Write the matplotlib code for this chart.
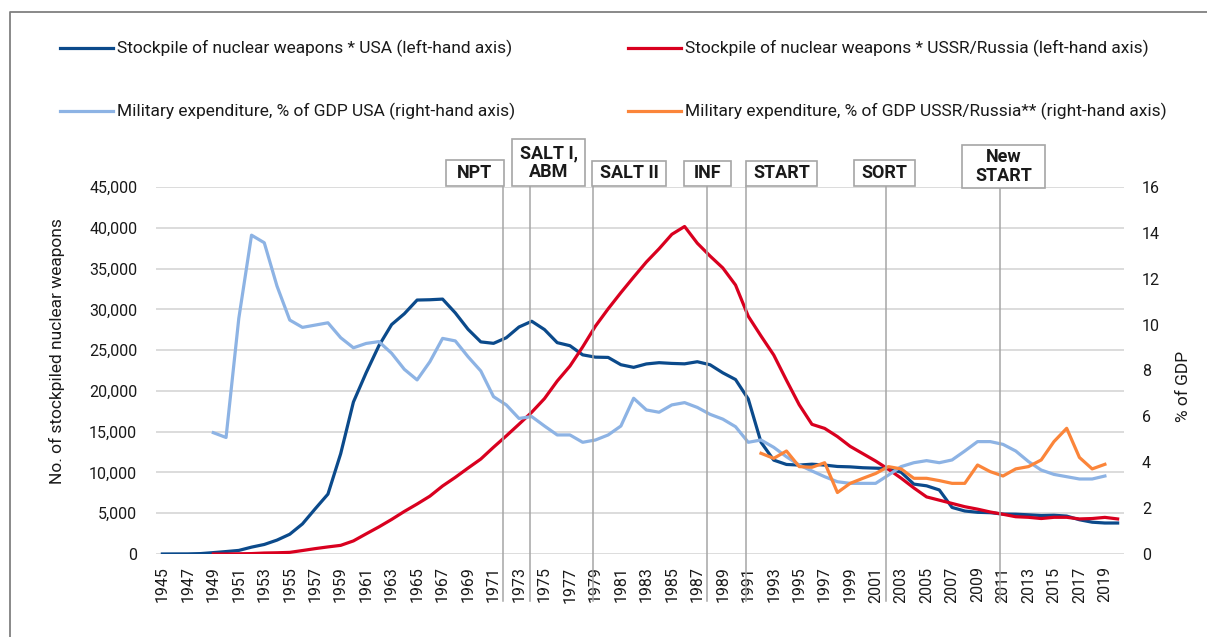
import matplotlib
matplotlib.use('Agg')
import matplotlib.pyplot as plt
from matplotlib.lines import Line2D
from matplotlib.patches import Rectangle
import matplotlib.transforms as mtransforms
import matplotlib.ticker as mticker
import numpy as np

plt.rcParams['font.family'] = ['Roboto', 'DejaVu Sans']

nan = np.nan
years = list(range(1945, 2021))

usa_stock = [2, 9, 13, 50, 170, 299, 438, 841, 1169, 1703, 2422, 3692, 5543, 7345, 12298,
             18638, 22229, 25540, 28133, 29463, 31139, 31175, 31255, 29561, 27552, 26008,
             25830, 26516, 27835, 28537, 27519, 25914, 25542, 24418, 24138, 24104, 23208,
             22886, 23305, 23459, 23368, 23317, 23575, 23205, 22217, 21392, 19008, 13708,
             11511, 10979, 10904, 11011, 10903, 10732, 10685, 10577, 10526, 10457, 10027,
             8570, 8360, 7853, 5709, 5273, 5113, 5066, 4897, 4881, 4804, 4717, 4750, 4650,
             4200, 3900, 3800, 3800]

russia_stock = [nan, nan, nan, nan, 1, 5, 25, 50, 120, 150, 200, 426, 660, 869, 1060, 1605,
                2471, 3322, 4238, 5221, 6129, 7089, 8339, 9399, 10538, 11643, 13092, 14478,
                15915, 17385, 19055, 21205, 23044, 25393, 27935, 30062, 32049, 33952, 35804,
                37431, 39197, 40159, 38107, 36538, 35078, 32980, 29154, 26734, 24400, 21300,
                18300, 15900, 15400, 14400, 13200, 12300, 11400, 10400, 9300, 8100, 7000,
                6600, 6200, 5800, 5500, 5150, 4870, 4570, 4500, 4350, 4500, 4500, 4300, 4350,
                4490, 4300]

usa_milex = [nan, nan, nan, nan, 5.29, 5.08, 10.27, 13.9, 13.57, 11.68, 10.2, 9.88, 9.98,
             10.08, 9.43, 8.99, 9.18, 9.26, 8.75, 8.05, 7.59, 8.38, 9.40, 9.29, 8.6, 7.98,
             6.86, 6.5, 5.91, 5.99, 5.58, 5.19, 5.19, 4.87, 4.97, 5.19, 5.58, 6.79, 6.28,
             6.18, 6.5, 6.6, 6.39, 6.09, 5.88, 5.55, 4.87, 4.97, 4.65, 4.24, 3.88, 3.62,
             3.37, 3.15, 3.08, 3.08, 3.08, 3.44, 3.81, 3.98, 4.07, 3.98, 4.1, 4.49, 4.9, 4.9,
             4.78, 4.49, 4.03, 3.66, 3.47, 3.37, 3.27, 3.27, 3.4, nan]

russia_milex = [nan] * 47 + [4.39, 4.17, 4.49, 3.81, 3.78, 3.98, 2.68, 3.08, 3.3, 3.51,
                             3.81, 3.71, 3.3, 3.3, 3.2, 3.08, 3.08, 3.88, 3.59, 3.4, 3.71,
                             3.81, 4.1, 4.9, 5.48, 4.21, 3.71, 3.91, nan]

labels = ['Stockpile of nuclear weapons * USA (left-hand axis)',
          'Stockpile of nuclear weapons * USSR/Russia (left-hand axis)',
          'Military expenditure, % of GDP USA (right-hand axis)',
          'Military expenditure, % of GDP USSR/Russia** (right-hand axis)']
colors = ['#0B4A8B', '#D9001F', '#8DB3E4', '#FB853A']

# treaty markers: name, position on year axis, box (x0, x1, ytop, ybottom) in pixels
treaties = ['NPT', 'SALT I,\nABM', 'SALT II', 'INF', 'START', 'SORT', 'New\nSTART']
treaty_pos = [1971.71, 1973.85, 1978.78, 1987.75, 1990.81, 2001.80, 2010.79]
treaty_box = [(446, 504, 160, 186), (512, 585, 139, 186), (592, 666, 161, 186),
              (684, 731, 161, 186), (746, 817, 161, 186), (854, 915, 160, 186),
              (962, 1045, 145, 188)]

W, H = 1207, 637
fig = plt.figure(figsize=(W / 100, H / 100), dpi=100)
ax = fig.add_axes([156 / W, 1 - 554 / H, (1124 - 156) / W, (554 - 187) / H])
ax2 = ax.twinx()

x = np.arange(len(years))
grid_c = '#D9D9D9'
txt_c = '#1a1a1a'
fs = 11.5
fs_big = 12.5

ax.plot(x, usa_stock, color=colors[0], lw=2.3, zorder=3, solid_joinstyle='round')
ax.plot(x, russia_stock, color=colors[1], lw=2.3, zorder=3, solid_joinstyle='round')
ax2.plot(x, usa_milex, color=colors[2], lw=2.3, zorder=3, solid_joinstyle='round')
ax2.plot(x, russia_milex, color=colors[3], lw=2.3, zorder=3, solid_joinstyle='round')

ax.set_xlim(-0.5, len(years) - 0.5)
ax.set_ylim(0, 45000)
ax.set_yticks(np.arange(0, 45001, 5000))
ax.yaxis.set_major_formatter(mticker.FuncFormatter(lambda v, p: f'{int(v):,}'))
ax2.set_ylim(0, 16)
ax2.set_yticks(np.arange(0, 17, 2))

ax.set_xticks(x[::2])
ax.set_xticklabels([str(y) for y in years[::2]], rotation=90)

for a in (ax, ax2):
    for s in a.spines.values():
        s.set_visible(False)
    a.tick_params(length=0, labelsize=fs, labelcolor=txt_c)
ax.tick_params(axis='y', pad=13.5)
ax.tick_params(axis='x', pad=9)
ax2.tick_params(axis='y', pad=13)

for v in np.arange(5000, 45001, 5000):
    ax.axhline(v, color=grid_c, lw=1.3, zorder=1)
ax.axhline(0, color=grid_c, lw=2.0, zorder=1)

fig.text(57 / W, 1 - 351 / H, 'No. of stockpiled nuclear weapons', rotation=90,
         ha='center', va='center', fontsize=fs_big, color=txt_c)
fig.text(1184 / W, 1 - 386 / H, '% of GDP', rotation=90,
         ha='center', va='center', fontsize=fs_big, color=txt_c)

# legend drawn by hand in two columns
leg_x = [60, 628]
leg_y = [48, 111]
for i, lab in enumerate(labels):
    lx = leg_x[i % 2]
    ly = leg_y[i // 2]
    fig.add_artist(Line2D([lx / W, (lx + 53) / W], [1 - ly / H, 1 - ly / H],
                          color=colors[i], lw=2.3))
    fig.text((lx + 57) / W, 1 - ly / H, lab, ha='left', va='center',
             fontsize=fs_big, color=txt_c)

# treaty lines and boxes
line_tr = mtransforms.blended_transform_factory(ax.transData, fig.transFigure)
for name, pos, (x0, x1, yt, yb) in zip(treaties, treaty_pos, treaty_box):
    fig.add_artist(Line2D([pos - 1945, pos - 1945], [1 - yb / H, 1 - 601 / H],
                          transform=line_tr, color='#A6A6A6', lw=1.1, zorder=5))
    fig.add_artist(Rectangle((x0 / W, 1 - yb / H), (x1 - x0) / W, (yb - yt) / H,
                             facecolor='white', edgecolor='#A6A6A6', lw=1.2, zorder=6))
    fig.text((x0 + x1) / 2 / W, 1 - (yt + yb) / 2 / H, name, ha='center', va='center',
             fontsize=13, fontweight='bold', color=txt_c, linespacing=1.05, zorder=7)

# outer frame (left and top edges visible in the crop)
fig.add_artist(Line2D([9.5 / W, 9.5 / W, 1], [0, 1 - 12 / H, 1 - 12 / H],
                      color='#808080', lw=1.3))

fig.savefig('out.png', dpi=100)
